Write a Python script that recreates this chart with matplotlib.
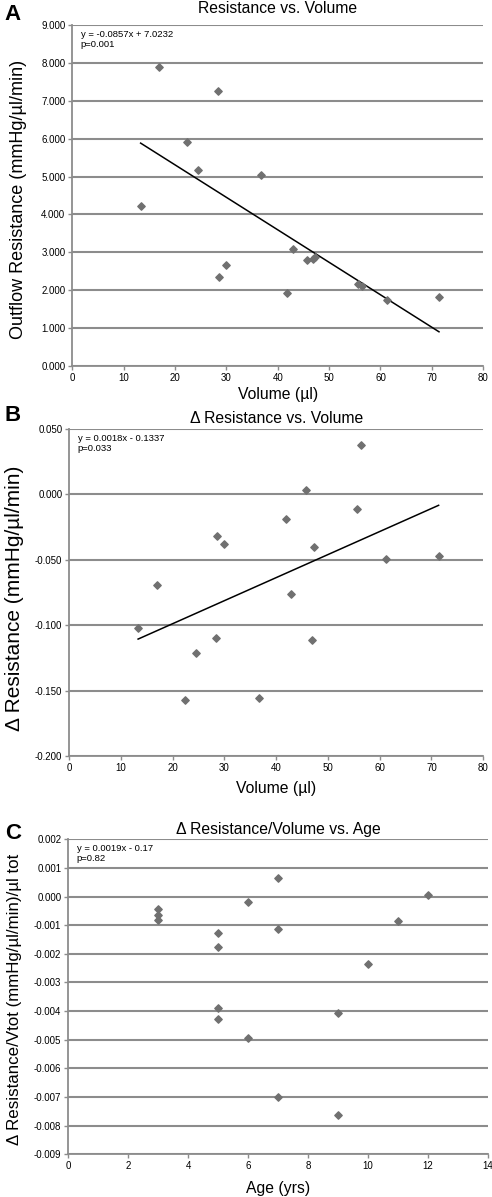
import numpy as np
import matplotlib
matplotlib.use("Agg")
import matplotlib.pyplot as plt

plt.rcParams['font.family'] = ['Liberation Sans', 'DejaVu Sans']

# volume of each eye (ul), shared by panels A and B
volume = [13.3, 16.9, 22.4, 24.4, 28.4, 28.6, 29.9, 36.7, 41.9, 42.9,
          45.7, 46.9, 47.3, 55.7, 56.4, 61.3, 71.4]
resistance = [4.22, 7.90, 5.90, 5.17, 7.26, 2.34, 2.66, 5.05, 1.94, 3.08,
              2.79, 2.82, 2.87, 2.16, 2.11, 1.75, 1.83]
delta_res = [-0.102, -0.069, -0.157, -0.121, -0.110, -0.032, -0.038, -0.156,
             -0.019, -0.076, 0.003, -0.111, -0.040, -0.011, 0.038, -0.049, -0.047]

# panel C
age = [3, 3, 3, 5, 5, 5, 5, 6, 6, 7, 7, 7, 9, 9, 10, 11, 12]
delta_per_vol = [-0.00045, -0.00066, -0.00081, -0.00128, -0.00177, -0.00388,
                 -0.00426, -0.00020, -0.00495, 0.00066, -0.00112, -0.00700,
                 -0.00408, -0.00764, -0.00236, -0.00085, 0.00006]

fit_a = (-0.0857, 7.0232)
fit_b = (0.00176, -0.134)

GRID = '#8c8c8c'
MARK = '#707070'
LAB = 11.3


def style_axes(ax):
    for s in ['top', 'right']:
        ax.spines[s].set_visible(False)
    for s in ['left', 'bottom']:
        ax.spines[s].set_color(GRID)
        ax.spines[s].set_linewidth(1.3)
    ax.yaxis.grid(True, color=GRID, linewidth=1.5)
    ax.set_axisbelow(True)
    ax.tick_params(direction='out', length=3, width=1, color=GRID,
                   labelsize=7, pad=2)


fig = plt.figure(figsize=(4.92, 11.97), dpi=100)

# ---- A
ax = fig.add_axes([0.147, 0.6942, 0.835, 0.2849])
style_axes(ax)
ax.scatter(volume, resistance, marker='D', s=14, color=MARK, zorder=3)
xs = np.array([min(volume), max(volume)])
ax.plot(xs, fit_a[0] * xs + fit_a[1], color='black', lw=1.1, zorder=2)
ax.set_xlim(0, 80)
ax.set_ylim(0, 9)
ax.set_xticks(range(0, 81, 10))
ax.set_yticks(range(0, 10))
ax.set_yticklabels(['%.3f' % v for v in range(0, 10)])
ax.set_xlabel('Volume (µl)', fontsize=LAB, labelpad=3)
fig.text(0.0366, 0.833, 'Outflow Resistance (mmHg/µl/min)', fontsize=13,
         rotation=90, ha='center', va='center')
ax.set_title('Resistance vs. Volume', fontsize=LAB, pad=9)
ax.text(0.02, 0.985, 'y = -0.0857x + 7.0232\np=0.001', transform=ax.transAxes,
        fontsize=6.8, va='top', linespacing=1.15)
fig.text(0.01, 0.988, 'A', fontsize=16, fontweight='bold', va='center')

# ---- B
ax = fig.add_axes([0.1409, 0.3684, 0.841, 0.2732])
style_axes(ax)
ax.scatter(volume, delta_res, marker='D', s=14, color=MARK, zorder=3)
ax.plot(xs, fit_b[0] * xs + fit_b[1], color='black', lw=1.1, zorder=2)
ax.set_xlim(0, 80)
ax.set_ylim(-0.2, 0.05)
ax.set_xticks(range(0, 81, 10))
bt = np.arange(-0.2, 0.051, 0.05)
ax.set_yticks(bt)
ax.set_yticklabels(['%.3f' % v if abs(v) > 1e-9 else '0.000' for v in bt])
ax.set_xlabel('Volume (µl)', fontsize=LAB, labelpad=6)
fig.text(0.029, 0.5, 'Δ Resistance (mmHg/µl/min)', fontsize=15,
         rotation=90, ha='center', va='center')
ax.set_title('Δ Resistance vs. Volume', fontsize=LAB, pad=4)
ax.text(0.02, 0.985, 'y = 0.0018x - 0.1337\np=0.033', transform=ax.transAxes,
        fontsize=6.8, va='top', linespacing=1.15)
fig.text(0.01, 0.653, 'B', fontsize=16, fontweight='bold', va='center')

# ---- C
ax = fig.add_axes([0.1388, 0.0357, 0.853, 0.2631])
style_axes(ax)
ax.scatter(age, delta_per_vol, marker='D', s=14, color=MARK, zorder=3)
ax.set_xlim(0, 14)
ax.set_ylim(-0.009, 0.002)
ax.set_xticks(range(0, 15, 2))
ct = np.arange(-9, 3) / 1000
ax.set_yticks(ct)
ax.set_yticklabels(['%.3f' % v if abs(v) > 1e-9 else '0.000' for v in ct])
ax.set_xlabel('Age (yrs)', fontsize=LAB, labelpad=7)
fig.text(0.029, 0.165, 'Δ Resistance/Vtot (mmHg/µl/min)/µl tot', fontsize=12.2,
         rotation=90, ha='center', va='center')
ax.set_title('Δ Resistance/Volume vs. Age', fontsize=LAB, pad=4)
ax.text(0.02, 0.985, 'y = 0.0019x - 0.17\np=0.82', transform=ax.transAxes,
        fontsize=6.8, va='top', linespacing=1.15)
fig.text(0.01, 0.304, 'C', fontsize=16, fontweight='bold', va='center')

fig.savefig('out.png', dpi=100)
